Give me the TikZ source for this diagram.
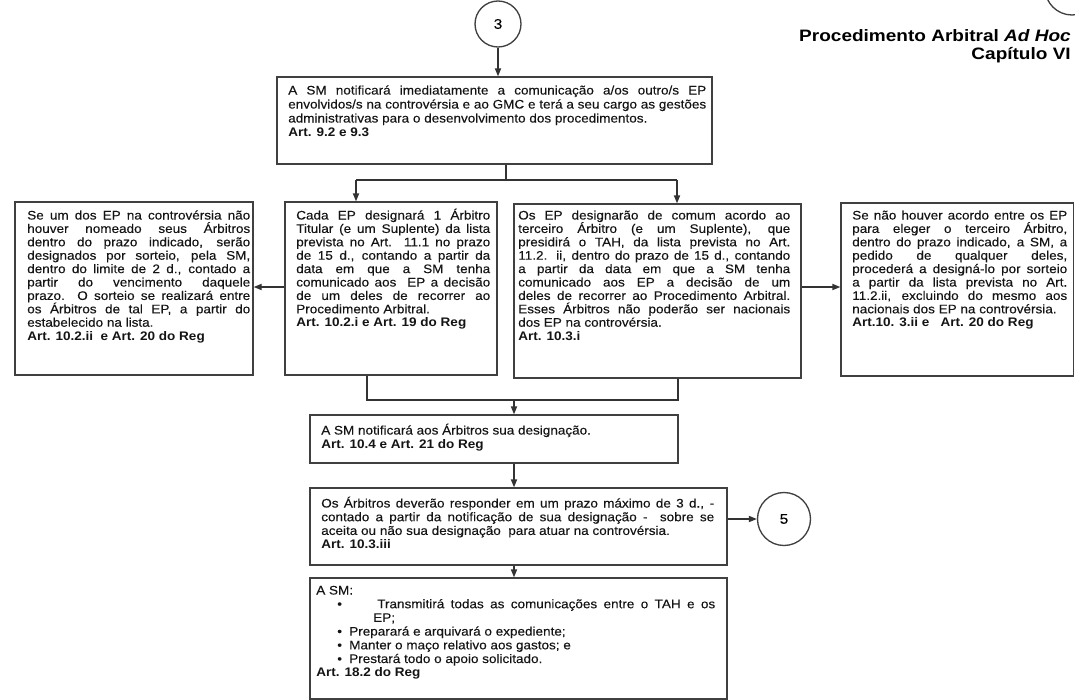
\documentclass[tikz,border=0pt]{standalone}
\usepackage{fontspec}
\setmainfont{Liberation Sans}[FakeStretch=1.09, UprightFeatures={FakeBold=0.2}]
\newfontfamily\titlefont{Liberation Sans}[FakeStretch=1.15]
\usetikzlibrary{arrows.meta,fit}

% one drawing unit = one pixel of the 1075 x 700 sheet
\newdimen\px \px=0.75pt
% a justified line of the given width (in px) and a block of lines
\newcommand\jline[2]{\hbox to #1\px{#2}}
\newcommand\textblock[2]{\vtop{\baselineskip=#1\px\lineskiplimit=-20pt\lineskip=0pt\parindent=0pt #2}}

\tikzset{
  boxst/.style={draw=black!75, line width=1pt, inner sep=0pt},
  conn/.style={circle, draw=black!75, line width=1pt, inner sep=0pt,
    text=black, font=\fontsize{10.5pt}{12pt}\selectfont},
  arr/.style={draw=black!80, line width=1pt, -{Triangle[length=6pt,width=4.6pt]}},
  lnk/.style={draw=black!80, line width=1pt},
  txt/.style={anchor=base west, inner sep=0pt, text=black!92,
    font=\fontsize{9.3pt}{11pt}\selectfont},
  ttl/.style={anchor=base east, inner sep=0pt, text=black,
    font=\titlefont\bfseries\fontsize{12.4pt}{14pt}\selectfont},
}

\begin{document}
\begin{tikzpicture}[x=0.75pt, y=-0.75pt]
\path[use as bounding box] (0,0) rectangle (1075,700);
\clip (0,0) rectangle (1075,700);

% heading
\node[ttl] (title1) at (1071,41) {Procedimento Arbitral \textit{Ad Hoc}};
\node[ttl] (title2) at (1071,59) {Capítulo VI};

% connector circles
\node[conn, minimum size=54*0.75pt] (c0) at (1072,-12) {};
\node[conn, minimum size=46*0.75pt] (c3) at (498,24) {3};
\node[conn, minimum size=53*0.75pt] (c5) at (784,519) {5};

% boxes
\node[boxst, fit={(277,77) (712,164)}] (top) {};
\node[boxst, fit={(15,202) (253,375)}] (lb) {};
\node[boxst, fit={(285,202) (497,375)}] (b2) {};
\node[boxst, fit={(514,204) (801,378)}] (b3) {};
\node[boxst, fit={(841,203) (1073.5,376)}] (rb) {};
\node[boxst, fit={(310,415) (678,463)}] (b5) {};
\node[boxst, fit={(310,488) (727,565)}] (b6) {};
\node[boxst, fit={(310,578) (727,699)}] (b7) {};

% box texts
\node[txt] (ttop) at (288,94.5) {\textblock{14}{%
\jline{418}{A SM notificará imediatamente a comunicação a/os outro/s EP}
\jline{418}{envolvidos/s na controvérsia e ao GMC e terá a seu cargo as gestões}
\hbox{administrativas para o desenvolvimento dos procedimentos.}
\hbox{\bfseries Art. 9.2 e 9.3}}};

\node[txt] (tlb) at (27,219.5) {\textblock{13.4}{%
\jline{223}{Se um dos EP na controvérsia não}
\jline{223}{houver nomeado seus Árbitros}
\jline{223}{dentro do prazo indicado, serão}
\jline{223}{designados por sorteio, pela SM,}
\jline{223}{dentro do limite de 2 d., contado a}
\jline{223}{partir do vencimento daquele}
\jline{223}{prazo. O sorteio se realizará entre}
\jline{223}{os Árbitros de tal EP, a partir do}
\hbox{estabelecido na lista.}
\hbox{\bfseries Art. 10.2.ii\ \ e Art. 20 do Reg}}};

\node[txt] (tb2) at (296,219.5) {\textblock{13.4}{%
\jline{194}{Cada EP designará 1 Árbitro}
\jline{194}{Titular (e um Suplente) da lista}
\jline{194}{prevista no Art. 11.1 no prazo}
\jline{194}{de 15 d., contando a partir da}
\jline{194}{data em que a SM tenha}
\jline{194}{comunicado aos\ \ EP a decisão}
\jline{194}{de um deles de recorrer ao}
\hbox{Procedimento Arbitral.}
\hbox{\bfseries Art. 10.2.i e Art. 19 do Reg}}};

\node[txt] (tb3) at (518,219.5) {\textblock{13.4}{%
\jline{272}{Os EP designarão de comum acordo ao}
\jline{272}{terceiro Árbitro (e um Suplente), que}
\jline{272}{presidirá o TAH, da lista prevista no Art.}
\jline{272}{11.2. ii, dentro do prazo de 15 d., contando}
\jline{272}{a partir da data em que a SM tenha}
\jline{272}{comunicado aos EP a decisão de um}
\jline{272}{deles de recorrer ao Procedimento Arbitral.}
\jline{272}{Esses Árbitros não poderão ser nacionais}
\hbox{dos EP na controvérsia.}
\hbox{\bfseries Art. 10.3.i}}};

\node[txt] (trb) at (852,219.5) {\textblock{13.4}{%
\jline{215}{Se não houver acordo entre os EP}
\jline{215}{para eleger o terceiro Árbitro,}
\jline{215}{dentro do prazo indicado, a SM, a}
\jline{215}{pedido de qualquer deles,}
\jline{215}{procederá a designá-lo por sorteio}
\jline{215}{a partir da lista prevista no Art.}
\jline{215}{11.2.ii, excluindo do mesmo aos}
\hbox{nacionais dos EP na controvérsia.}
\hbox{\bfseries Art.10. 3.ii e\ \ \ Art. 20 do Reg}}};

\node[txt] (tb5) at (321,434.5) {\textblock{14}{%
\hbox{A SM notificará aos Árbitros sua designação.}
\hbox{\bfseries Art. 10.4 e Art. 21 do Reg}}};

\node[txt] (tb6) at (321,507.5) {\textblock{13.7}{%
\jline{393}{Os Árbitros deverão responder em um prazo máximo de 3 d., -}
\jline{393}{contado a partir da notificação de sua designação -\ \ sobre se}
\hbox{aceita ou não sua designação\ \ para atuar na controvérsia.}
\hbox{\bfseries Art. 10.3.iii}}};

\node[txt] (tb7) at (316,594.5) {\textblock{13.7}{%
\hbox{A SM:}
\hbox{\kern21\px\hbox to 40\px{•\hfil}\hbox to 338\px{Transmitirá todas as comunicações entre o TAH e os}}
\hbox{\kern57\px EP;}
\hbox{\kern21\px\hbox to 12\px{•\hfil}Preparará e arquivará o expediente;}
\hbox{\kern21\px\hbox to 12\px{•\hfil}Manter o maço relativo aos gastos; e}
\hbox{\kern21\px\hbox to 12\px{•\hfil}Prestará todo o apoio solicitado.}
\hbox{\bfseries Art. 18.2 do Reg}}};

% flow connectors
\coordinate (jtop) at (506,180);
\coordinate (in2) at (356,180);
\coordinate (in3) at (677,180);
\coordinate (jl) at (367,400);
\coordinate (jr) at (678,400);
\coordinate (jm) at (514,400);
\coordinate (side) at (0,287);

\draw[arr] (c3) -- (c3 |- top.north);
\draw[lnk] (top.south -| jtop) -- (jtop);
\draw[lnk] (in2) -- (in3);
\draw[arr] (in2) -- (in2 |- b2.north);
\draw[arr] (in3) -- (in3 |- b3.north);

\draw[arr] (b2.west |- side) -- (lb.east |- side);
\draw[arr] (b3.east |- side) -- (rb.west |- side);

\draw[lnk] (b2.south -| jl) -- (jl) -- (jr) -- (b3.south -| jr);
\draw[arr] (jm) -- (jm |- b5.north);
\draw[arr] (b5.south -| jm) -- (b6.north -| jm);
\draw[arr] (b6.south -| jm) -- (b7.north -| jm);
\draw[arr] (b6.east |- c5) -- (c5);
\end{tikzpicture}
\end{document}
